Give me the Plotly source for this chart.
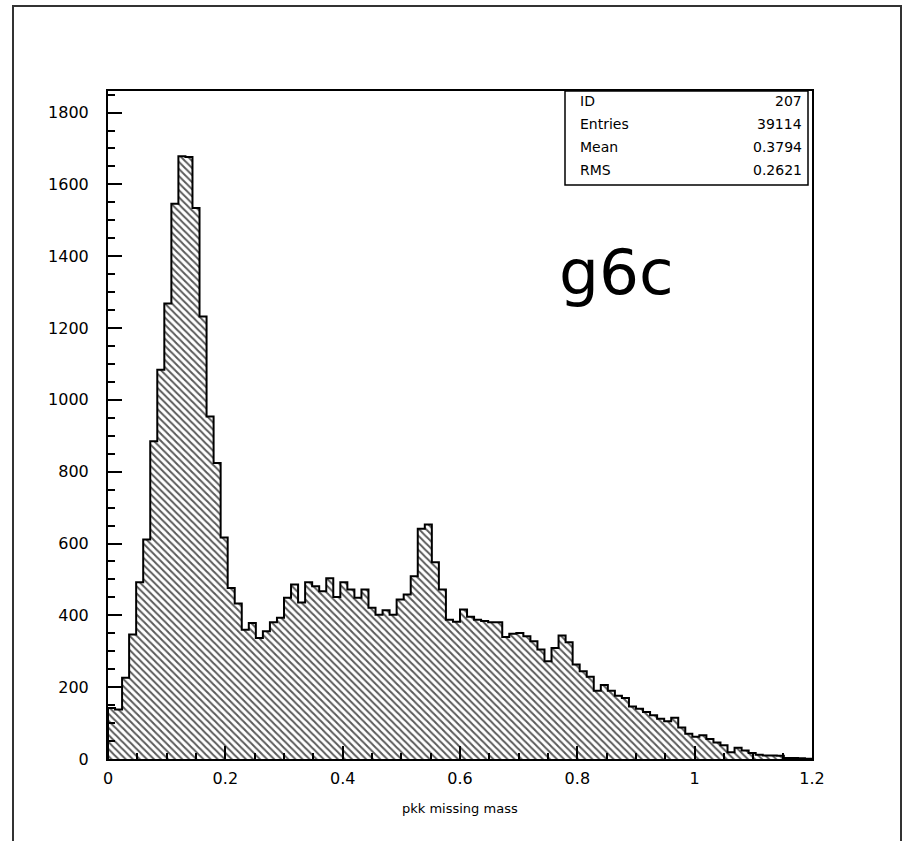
import numpy as np
import plotly.graph_objects as go

# ---------------- data ----------------
x_min, x_max, n_bins = 0.0, 1.2, 100
counts = [
    142, 138, 226, 347, 492, 611, 885, 1084, 1268, 1546,
    1678, 1676, 1534, 1232, 954, 824, 617, 476, 433, 360,
    379, 337, 356, 381, 393, 449, 486, 436, 492, 481,
    467, 503, 451, 492, 472, 449, 472, 421, 402, 414,
    402, 444, 458, 509, 641, 653, 548, 472, 388, 382,
    416, 396, 388, 384, 381, 381, 340, 349, 351, 342,
    328, 305, 272, 309, 344, 325, 263, 244, 229, 190,
    206, 190, 176, 170, 146, 140, 131, 122, 112, 105,
    115, 88, 70, 62, 66, 56, 46, 38, 19, 31,
    24, 17, 12, 10, 10, 9, 3, 3, 2, 1,
]
y_ticks = [0, 200, 400, 600, 800, 1000, 1200, 1400, 1600, 1800]
x_ticks = [0, 0.2, 0.4, 0.6, 0.8, 1.0, 1.2]
x_tick_text = ["0", "0.2", "0.4", "0.6", "0.8", "1", "1.2"]
stats_labels = ["ID", "Entries", "Mean", "RMS"]
stats_values = ["207", "39114", "0.3794", "0.2621"]
x_title = "pkk missing mass"
tag_text = "g6c"

# ---------------- derived ----------------
edges = np.linspace(x_min, x_max, n_bins + 1)
centers = (edges[:-1] + edges[1:]) / 2
bin_w = edges[1] - edges[0]
step_x = np.concatenate([[edges[0]], edges, [edges[-1]]])
step_y = np.concatenate([[0], counts, [counts[-1], 0]])

W, H = 903, 841
L, R, T, B = 108, 91, 91, 82
pw, ph = W - L - R, H - T - B


def px(xp):
    return (xp - L) / pw


def py(yp):
    return (H - B - yp) / ph


fig = go.Figure()
fig.add_trace(go.Bar(
    x=centers, y=counts, width=bin_w,
    marker=dict(color="white", line=dict(width=0),
                pattern=dict(shape="\\", fgcolor="#222222", bgcolor="white",
                             size=5, solidity=0.4, fgopacity=0.75)),
    hoverinfo="skip", showlegend=False,
))
fig.add_trace(go.Scatter(
    x=step_x, y=step_y, mode="lines",
    line=dict(color="black", width=2, shape="hv"),
    hoverinfo="skip", showlegend=False,
))

tick_font = dict(family="DejaVu Sans", size=16, color="black")

fig.update_xaxes(
    range=[x_min, x_max], tickvals=x_ticks, ticktext=x_tick_text,
    ticks="inside", ticklen=13, tickwidth=1.5, tickcolor="black",
    minor=dict(dtick=0.05, ticks="inside", ticklen=6, tickwidth=1.5, tickcolor="black"),
    showline=True, linecolor="black", linewidth=2, mirror=True,
    showgrid=False, zeroline=False, tickfont=tick_font, ticklabelstandoff=4,
)
fig.update_yaxes(
    range=[0, 1860], tickvals=y_ticks,
    ticks="inside", ticklen=14, tickwidth=1.5, tickcolor="black",
    minor=dict(dtick=50, ticks="inside", ticklen=7, tickwidth=1.5, tickcolor="black"),
    showline=True, linecolor="black", linewidth=2, mirror=True,
    showgrid=False, zeroline=False, tickfont=tick_font, ticklabelstandoff=14,
)

shapes = [
    # outer frame
    dict(type="rect", xref="paper", yref="paper",
         x0=px(13), x1=px(901), y0=py(860), y1=py(6),
         line=dict(color="#333333", width=2), fillcolor="rgba(0,0,0,0)"),
    # stats box
    dict(type="rect", xref="paper", yref="paper",
         x0=px(565), x1=px(808), y0=py(185), y1=1,
         line=dict(color="black", width=1.5), fillcolor="white"),
]

annotations = []
row_y = [101, 124, 147, 170]
for lab, val, yy in zip(stats_labels, stats_values, row_y):
    annotations.append(dict(x=px(578), y=py(yy), xref="paper", yref="paper",
                            text=lab, showarrow=False, xanchor="left", yanchor="middle",
                            font=dict(family="DejaVu Sans", size=14, color="black")))
    annotations.append(dict(x=px(804), y=py(yy), xref="paper", yref="paper",
                            text=val, showarrow=False, xanchor="right", yanchor="middle",
                            font=dict(family="DejaVu Sans", size=14, color="black")))
annotations.append(dict(x=px(616), y=py(272), xref="paper", yref="paper",
                        text=tag_text, showarrow=False, xanchor="center", yanchor="middle",
                        font=dict(family="DejaVu Sans", size=63, color="black")))
annotations.append(dict(x=0.5, y=py(808), xref="paper", yref="paper",
                        text=x_title, showarrow=False, xanchor="center", yanchor="middle",
                        font=dict(family="DejaVu Sans", size=13, color="black")))

fig.update_layout(
    width=W, height=H, margin=dict(l=L, r=R, t=T, b=B),
    paper_bgcolor="white", plot_bgcolor="white",
    bargap=0, shapes=shapes, annotations=annotations, showlegend=False,
)

fig.write_html("out.html", config={"displayModeBar": False},
               post_script="document.body.style.margin='0px';")
